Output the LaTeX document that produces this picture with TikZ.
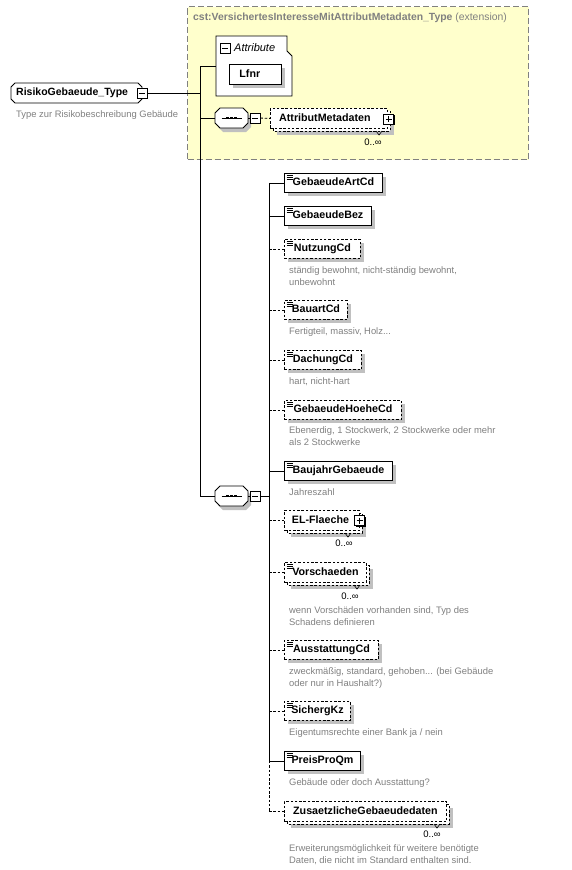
\documentclass[tikz,border=0pt]{standalone}
\usepackage{fontspec}
\setmainfont{Liberation Sans}
\usetikzlibrary{shadows}
\definecolor{descgray}{RGB}{128,128,128}
\definecolor{boxyellow}{RGB}{255,255,204}
\definecolor{shadowgray}{RGB}{192,192,192}
\definecolor{framegray}{RGB}{128,128,128}

\newcommand\chamfbox[5]{(#1+#5,#2) -- (#3-#5,#2) -- (#3,#2+#5) -- (#3,#4-#5) -- (#3-#5,#4) -- (#1+#5,#4) -- (#1,#4-#5) -- (#1,#2+#5) -- cycle}
\newcommand\elemicon[1]{\draw[line width=0.7pt] ([shift={(2.5,2)}]#1.north west) -- ++(6,0) ([shift={(2.5,4)}]#1.north west) -- ++(6,0) ([shift={(2.5,6)}]#1.north west) -- ++(6,0);}
\newcommand\minussign[1]{\draw[line width=0.9pt] ([shift={(-3,0)}]#1.center) -- ([shift={(3,0)}]#1.center);}
\newcommand\plussign[1]{\draw[line width=0.9pt] ([shift={(-3,0)}]#1.center) -- ([shift={(3,0)}]#1.center) ([shift={(0,-3)}]#1.center) -- ([shift={(0,3)}]#1.center);}
\newcommand\seqicon[1]{\draw[line width=0.9pt] ([shift={(-10,0)}]#1.center) -- ([shift={(10,0)}]#1.center);
  \fill ([shift={(-5.3,-1.3)}]#1.center) rectangle ++(2.6,2.6);
  \fill ([shift={(-1.3,-1.3)}]#1.center) rectangle ++(2.6,2.6);
  \fill ([shift={(2.7,-1.3)}]#1.center) rectangle ++(2.6,2.6);}

\tikzset{
  elembox/.style={draw=black, line width=0.9pt, fill=white, font=\bfseries\fontsize{10.7}{12}\selectfont, text height=7.7pt, text depth=2.2pt, inner xsep=0pt, inner ysep=0pt, minimum height=19pt, anchor=north west},
  optional/.style={dash pattern=on 2.5pt off 1.8pt},
  shade4/.style={drop shadow={shadow xshift=4pt, shadow yshift=-4pt, fill=shadowgray, opacity=1}},
  desc/.style={font=\fontsize{9.4}{11.5}\selectfont, text=descgray, anchor=north west, align=left, inner sep=0pt},
  occ/.style={font=\fontsize{9.5}{10}\selectfont, inner sep=0pt},
  conn/.style={line width=0.9pt},
  toggle/.style={draw=black, line width=0.9pt, fill=white, minimum size=10pt, inner sep=0pt, drop shadow={shadow xshift=1.2pt, shadow yshift=-1.2pt, fill=black, opacity=1}},
  hidden/.style={inner sep=0pt, draw=none},
  seqshadow/.style={drop shadow={shadow xshift=3pt, shadow yshift=-4pt, fill=shadowgray, opacity=1}},
  tick/.style={line width=0.6pt},
}

\begin{document}
\begin{tikzpicture}[x=1pt,y=-1pt]
\useasboundingbox (0,0) rectangle (571,870);
\fill[white] (0,0) rectangle (571,870);

% ---------- extension frame ----------
\node[draw=framegray, dash pattern=on 6pt off 3pt, fill=boxyellow, line width=1pt, minimum width=341pt, minimum height=153pt, anchor=north west, inner sep=0pt] (ext) at (187,6) {};
\node[anchor=west, inner sep=0pt, text=descgray, font=\fontsize{10.4}{12}\selectfont] (exttitle) at (193,18) {\textbf{cst:VersichertesInteresseMitAttributMetadaten\_Type} (extension)};

% ---------- main type ----------
\draw[fill=white, line width=0.9pt] \chamfbox{11}{83}{142}{103}{4};
\node[hidden, anchor=west, text width=121pt, align=left, font=\bfseries\fontsize{10.5}{12}\selectfont, inner xsep=5pt] (rtype) at (11,93) {RisikoGebaeude\_Type};
\node[toggle] (tmain) at (142,93) {};
\minussign{tmain}
\node[desc, anchor=west] (rtypedesc) at (16,115) {Type zur Risikobeschreibung Gebäude};

% ---------- attribute group ----------
\draw[fill=white, line width=0.9pt] (216,36) -- (287,36) -- (287,51) -- (292,56) -- (292,96) -- (216,96) -- cycle;
\node[hidden, minimum width=76pt, minimum height=60pt, anchor=north west] (attr) at (216,36) {};
\node[toggle] (tattr) at (225,48) {};
\minussign{tattr}
\node[anchor=west, inner sep=0pt, font=\itshape\fontsize{11}{12}\selectfont] (attrlbl) at (234,47.5) {Attribute};
\node[elembox, minimum width=52pt, minimum height=20pt, text width=32pt, align=left, shade4] (lfnr) at (229,64) {Lfnr};

% ---------- sequence 1 ----------
\draw[fill=white, line width=0.9pt, seqshadow] \chamfbox{215}{108}{248}{128}{5};
\node[hidden, minimum width=33pt, minimum height=20pt] (seq1) at (231.5,118) {};
\seqicon{seq1}
\node[toggle] (tseq1) at (255,118) {};
\minussign{tseq1}

% AttributMetadaten (0..inf)
\draw[fill=white, line width=0.9pt, optional, shade4] (273,111) rectangle (390,131);
\node[elembox, optional, minimum width=117pt, minimum height=20pt] (am) at (270,108) {\hspace*{-8pt}AttributMetadaten};
\node[toggle] (tam) at (388.5,119) {};
\plussign{tam}
\draw[tick] (376,131) -- (379,135) -- (382,131);
\node[occ] (amocc) at (373,142) {0..\char"221E};

% ---------- sequence 2 ----------
\draw[fill=white, line width=0.9pt, seqshadow] \chamfbox{215}{486}{248}{506}{5};
\node[hidden, minimum width=33pt, minimum height=20pt] (seq2) at (231.5,496) {};
\seqicon{seq2}
\node[toggle] (tseq2) at (255,496) {};
\minussign{tseq2}

% ---------- elements ----------
\node[elembox, minimum width=98pt, shade4] (e1) at (284,173) {GebaeudeArtCd};
\elemicon{e1}
\node[elembox, minimum width=87pt, shade4] (e2) at (284,206) {GebaeudeBez};
\elemicon{e2}
\node[elembox, optional, minimum width=76pt, shade4] (e3) at (284,239) {NutzungCd};
\elemicon{e3}
\node[desc] (d3) at (289,266.5) {ständig bewohnt, nicht-ständig bewohnt,\\unbewohnt};
\node[elembox, optional, minimum width=63pt, shade4] (e4) at (284,300) {BauartCd};
\elemicon{e4}
\node[desc] (d4) at (289,327.5) {Fertigteil, massiv, Holz...};
\node[elembox, optional, minimum width=77pt, shade4] (e5) at (284,350) {DachungCd};
\elemicon{e5}
\node[desc] (d5) at (289,377.5) {hart, nicht-hart};
\node[elembox, optional, minimum width=117pt, shade4] (e6) at (284,400) {GebaeudeHoeheCd};
\elemicon{e6}
\node[desc] (d6) at (289,426.5) {Ebenerdig, 1 Stockwerk, 2 Stockwerke oder mehr\\als 2 Stockwerke};
\node[elembox, minimum width=108pt, shade4] (e7) at (284,461) {BaujahrGebaeude};
\elemicon{e7}
\node[desc] (d7) at (289,488.5) {Jahreszahl};

% EL-Flaeche (0..inf)
\draw[fill=white, line width=0.9pt, optional, shade4] (287,513) rectangle (362,533);
\node[elembox, optional, minimum width=75pt, minimum height=20pt] (e8) at (284,510) {\hspace*{-3pt}EL-Flaeche};
\node[toggle] (te8) at (359.5,520.5) {};
\plussign{te8}
\draw[tick] (345,533) -- (348,537) -- (351,533);
\node[occ] (o8) at (344,543) {0..\char"221E};

% Vorschaeden (0..inf)
\draw[fill=white, line width=0.9pt, optional, shade4] (287,565) rectangle (369,585);
\node[elembox, optional, minimum width=82pt, minimum height=20pt] (e9) at (284,562) {Vorschaeden};
\elemicon{e9}
\draw[tick] (354,585) -- (357,589) -- (360,585);
\node[occ] (o9) at (350,596) {0..\char"221E};
\node[desc] (d9) at (289,606.5) {wenn Vorschäden vorhanden sind, Typ des\\Schadens definieren};

\node[elembox, optional, minimum width=94pt, shade4] (e10) at (284,640) {AusstattungCd};
\elemicon{e10}
\node[desc] (d10) at (289,667.5) {zweckmäßig, standard, gehoben... (bei Gebäude\\oder nur in Haushalt?)};
\node[elembox, optional, minimum width=66pt, shade4] (e11) at (284,701) {SichergKz};
\elemicon{e11}
\node[desc] (d11) at (289,728.5) {Eigentumsrechte einer Bank ja / nein};
\node[elembox, minimum width=76pt, shade4] (e12) at (284,751) {PreisProQm};
\elemicon{e12}
\node[desc] (d12) at (289,778.5) {Gebäude oder doch Ausstattung?};

% ZusaetzlicheGebaeudedaten (0..inf)
\draw[fill=white, line width=0.9pt, optional, shade4] (287,804) rectangle (449,824);
\node[elembox, optional, minimum width=162pt, minimum height=20pt] (e13) at (284,801) {ZusaetzlicheGebaeudedaten};
\draw[tick] (434,824) -- (437,828) -- (440,824);
\node[occ] (o13) at (432,834) {0..\char"221E};
\node[desc] (d13) at (289,844.5) {Erweiterungsmöglichkeit für weitere benötigte\\Daten, die nicht im Standard enthalten sind.};

% ---------- connectors ----------
\coordinate (jA) at (200,66);
\coordinate (jM) at (200,93);
\coordinate (jS1) at (200,118);
\coordinate (jS2) at (200,496);
\coordinate (k0) at (269,496);

\draw[conn] (tmain.east) -- (jM);
\draw[conn] (jA) -- (jS2);
\draw[conn] (jA) -- (jA -| attr.west);
\draw[conn] (jS1) -- (seq1.west);
\draw[conn] (seq1.east) -- (tseq1.west);
\draw[conn, optional] (tseq1.east) -- (am.west);
\draw[conn] (jS2) -- (seq2.west);
\draw[conn] (seq2.east) -- (tseq2.west);
\draw[conn] (tseq2.east) -- (k0);

\draw[conn] (e1.west -| k0) -- (e12.west -| k0);
\draw[conn, optional] (e12.west -| k0) -- (e13.west -| k0);

\draw[conn] (e1.west -| k0) -- (e1.west);
\draw[conn] (e2.west -| k0) -- (e2.west);
\draw[conn, optional] (e3.west -| k0) -- (e3.west);
\draw[conn, optional] (e4.west -| k0) -- (e4.west);
\draw[conn, optional] (e5.west -| k0) -- (e5.west);
\draw[conn, optional] (e6.west -| k0) -- (e6.west);
\draw[conn] (e7.west -| k0) -- (e7.west);
\draw[conn, optional] (e8.west -| k0) -- (e8.west);
\draw[conn, optional] (e9.west -| k0) -- (e9.west);
\draw[conn, optional] (e10.west -| k0) -- (e10.west);
\draw[conn, optional] (e11.west -| k0) -- (e11.west);
\draw[conn] (e12.west -| k0) -- (e12.west);
\draw[conn, optional] (e13.west -| k0) -- (e13.west);
\end{tikzpicture}
\end{document}
